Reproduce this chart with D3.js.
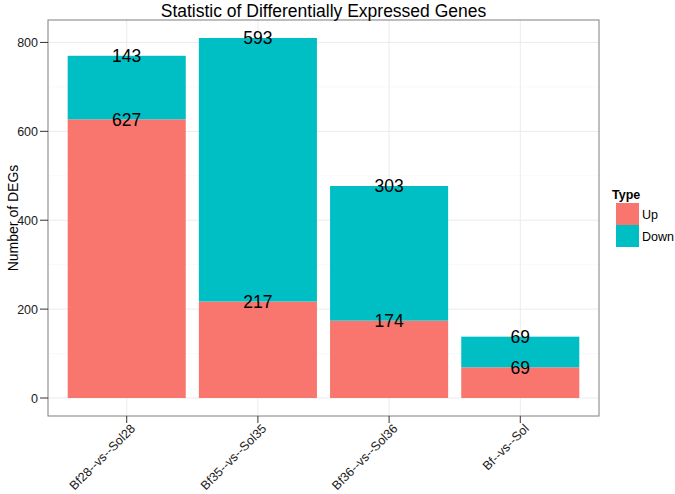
<!DOCTYPE html>
<html><head><meta charset="utf-8">
<script src="https://cdn.jsdelivr.net/npm/d3@7"></script>
<style>body{margin:0;background:#fff;} text{font-family:"Liberation Sans",Arial,Helvetica,sans-serif;}</style>
</head><body>
<svg id="c" width="675" height="494"></svg>
<script>
const categories = ["Bf28--vs--Sol28","Bf35--vs--Sol35","Bf36--vs--Sol36","Bf--vs--Sol"];
const upValues = [627, 217, 174, 69];
const downValues = [143, 593, 303, 69];
const yTicks = [0, 200, 400, 600, 800];
const yMinor = [100, 300, 500, 700];
const seriesNames = ["Up", "Down"];
const seriesColors = ["#F8766D", "#00BFC4"];

const svg = d3.select("#c");
const L = 48, R = 599, T = 20, B = 416;
// ggplot discrete expand 0.6 units
const step = (R - L) / (categories.length - 1 + 1.2);
const xc = d3.scalePoint().domain(categories).range([L + 0.6*step, R - 0.6*step]);
const bw = step * 0.9;
const totals = upValues.map((u,i)=>u+downValues[i]);
const ymax = d3.max(totals);
const y = d3.scaleLinear().domain([-0.05*ymax, ymax*1.05]).range([B, T]);

const g = svg.append("g");
g.append("rect").attr("x",L).attr("y",T).attr("width",R-L).attr("height",B-T).attr("fill","#fff");
g.selectAll(".ymin").data(yMinor).join("line").attr("x1",L).attr("x2",R)
  .attr("y1",d=>y(d)).attr("y2",d=>y(d)).attr("stroke","#f7f7f7").attr("stroke-width",0.7);
g.selectAll(".ymaj").data(yTicks).join("line").attr("x1",L).attr("x2",R)
  .attr("y1",d=>y(d)).attr("y2",d=>y(d)).attr("stroke","#ebebeb").attr("stroke-width",1);
g.selectAll(".xmaj").data(categories).join("line").attr("y1",T).attr("y2",B)
  .attr("x1",d=>xc(d)).attr("x2",d=>xc(d)).attr("stroke","#ebebeb").attr("stroke-width",1);

const stackData = categories.map((c,i)=>({c, up:upValues[i], down:downValues[i]}));
const stack = d3.stack().keys(["up","down"])(stackData);
stack.forEach((s,si)=>{
  g.selectAll(".b"+si).data(s).join("rect")
    .attr("x",d=>xc(d.data.c)-bw/2).attr("width",bw)
    .attr("y",d=>y(d[1])).attr("height",d=>y(d[0])-y(d[1]))
    .attr("fill",seriesColors[si]);
});
stack.forEach((s,si)=>{
  g.selectAll(".l"+si).data(s).join("text")
    .attr("x",d=>xc(d.data.c)).attr("y",d=>y(d[1]))
    .attr("dy","0.36em").attr("text-anchor","middle")
    .attr("font-size",17.5).attr("fill","#000")
    .text(d=>d[1]-d[0]);
});

g.append("rect").attr("x",L).attr("y",T).attr("width",R-L).attr("height",B-T)
  .attr("fill","none").attr("stroke","#7f7f7f").attr("stroke-width",1);

const ya = svg.append("g");
ya.selectAll("line").data(yTicks).join("line").attr("x1",L-8).attr("x2",L)
  .attr("y1",d=>y(d)).attr("y2",d=>y(d)).attr("stroke","#333").attr("stroke-width",1);
ya.selectAll("text").data(yTicks).join("text").attr("x",L-10).attr("y",d=>y(d))
  .attr("dy","0.36em").attr("text-anchor","end").attr("font-size",12.5).attr("fill","#1a1a1a").text(d=>d);
const xa = svg.append("g");
xa.selectAll("line").data(categories).join("line").attr("x1",d=>xc(d)).attr("x2",d=>xc(d))
  .attr("y1",B).attr("y2",B+7).attr("stroke","#333").attr("stroke-width",1);
xa.selectAll("text").data(categories).join("text")
  .attr("transform",d=>`translate(${xc(d)+4},${B+8}) rotate(-45)`)
  .attr("text-anchor","end").attr("dy","0.6em").attr("font-size",12.5).attr("fill","#1a1a1a").text(d=>d);

svg.append("text").attr("x",(L+R)/2).attr("y",16.5).attr("text-anchor","middle")
  .attr("font-size",17.5).attr("fill","#000").text("Statistic of Differentially Expressed Genes");
svg.append("text").attr("transform",`translate(18,${(T+B)/2}) rotate(-90)`).attr("text-anchor","middle")
  .attr("font-size",14).attr("fill","#000").text("Number of DEGs");

const lg = svg.append("g");
lg.append("text").attr("x",612).attr("y",199).attr("font-size",12.5).attr("font-weight","bold").text("Type");
seriesNames.forEach((n,i)=>{
  lg.append("rect").attr("x",616).attr("y",203+i*22).attr("width",23).attr("height",22).attr("fill",seriesColors[i]);
  lg.append("text").attr("x",642).attr("y",214+i*22).attr("dy","0.36em").attr("font-size",12.5).text(n);
});
</script>
</body></html>
